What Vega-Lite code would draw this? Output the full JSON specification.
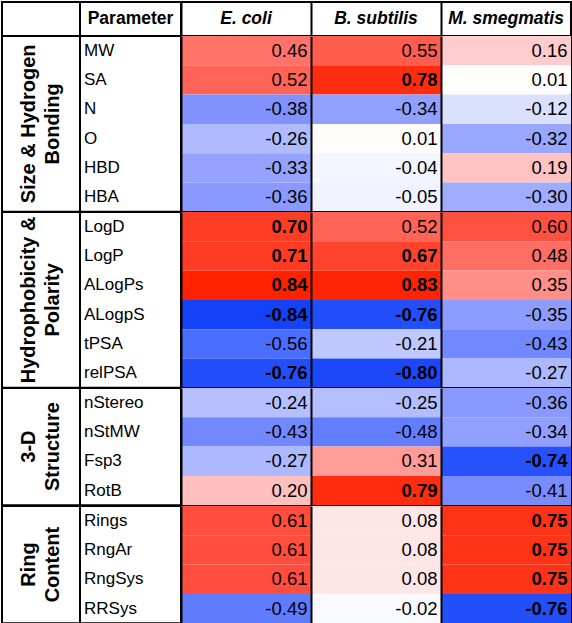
{
  "$schema": "https://vega.github.io/schema/vega-lite/v6.json",
  "padding": {"left": 1, "top": 1, "right": 0, "bottom": 0},
  "columns": 3,
  "spacing": 0,
  "align": "each",
  "bounds": "flush",
  "config": {
    "view": {"stroke": "#000000", "strokeWidth": 2},
    "font": "Liberation Sans",
    "locale": {"number": {"decimal": ".", "thousands": ",", "grouping": [3], "currency": ["$", ""], "minus": "-"}}
  },
  "datasets": {
    "cells": [
      {"g": "Size & Hydrogen\nBonding", "p": "MW", "s": "E. coli", "v": 0.46},
      {"g": "Size & Hydrogen\nBonding", "p": "MW", "s": "B. subtilis", "v": 0.55},
      {"g": "Size & Hydrogen\nBonding", "p": "MW", "s": "M. smegmatis", "v": 0.16},
      {"g": "Size & Hydrogen\nBonding", "p": "SA", "s": "E. coli", "v": 0.52},
      {"g": "Size & Hydrogen\nBonding", "p": "SA", "s": "B. subtilis", "v": 0.78},
      {"g": "Size & Hydrogen\nBonding", "p": "SA", "s": "M. smegmatis", "v": 0.01},
      {"g": "Size & Hydrogen\nBonding", "p": "N", "s": "E. coli", "v": -0.38},
      {"g": "Size & Hydrogen\nBonding", "p": "N", "s": "B. subtilis", "v": -0.34},
      {"g": "Size & Hydrogen\nBonding", "p": "N", "s": "M. smegmatis", "v": -0.12},
      {"g": "Size & Hydrogen\nBonding", "p": "O", "s": "E. coli", "v": -0.26},
      {"g": "Size & Hydrogen\nBonding", "p": "O", "s": "B. subtilis", "v": 0.01},
      {"g": "Size & Hydrogen\nBonding", "p": "O", "s": "M. smegmatis", "v": -0.32},
      {"g": "Size & Hydrogen\nBonding", "p": "HBD", "s": "E. coli", "v": -0.33},
      {"g": "Size & Hydrogen\nBonding", "p": "HBD", "s": "B. subtilis", "v": -0.04},
      {"g": "Size & Hydrogen\nBonding", "p": "HBD", "s": "M. smegmatis", "v": 0.19},
      {"g": "Size & Hydrogen\nBonding", "p": "HBA", "s": "E. coli", "v": -0.36},
      {"g": "Size & Hydrogen\nBonding", "p": "HBA", "s": "B. subtilis", "v": -0.05},
      {"g": "Size & Hydrogen\nBonding", "p": "HBA", "s": "M. smegmatis", "v": -0.30},
      {"g": "Hydrophobicity &\nPolarity", "p": "LogD", "s": "E. coli", "v": 0.70},
      {"g": "Hydrophobicity &\nPolarity", "p": "LogD", "s": "B. subtilis", "v": 0.52},
      {"g": "Hydrophobicity &\nPolarity", "p": "LogD", "s": "M. smegmatis", "v": 0.60},
      {"g": "Hydrophobicity &\nPolarity", "p": "LogP", "s": "E. coli", "v": 0.71},
      {"g": "Hydrophobicity &\nPolarity", "p": "LogP", "s": "B. subtilis", "v": 0.67},
      {"g": "Hydrophobicity &\nPolarity", "p": "LogP", "s": "M. smegmatis", "v": 0.48},
      {"g": "Hydrophobicity &\nPolarity", "p": "ALogPs", "s": "E. coli", "v": 0.84},
      {"g": "Hydrophobicity &\nPolarity", "p": "ALogPs", "s": "B. subtilis", "v": 0.83},
      {"g": "Hydrophobicity &\nPolarity", "p": "ALogPs", "s": "M. smegmatis", "v": 0.35},
      {"g": "Hydrophobicity &\nPolarity", "p": "ALogpS", "s": "E. coli", "v": -0.84},
      {"g": "Hydrophobicity &\nPolarity", "p": "ALogpS", "s": "B. subtilis", "v": -0.76},
      {"g": "Hydrophobicity &\nPolarity", "p": "ALogpS", "s": "M. smegmatis", "v": -0.35},
      {"g": "Hydrophobicity &\nPolarity", "p": "tPSA", "s": "E. coli", "v": -0.56},
      {"g": "Hydrophobicity &\nPolarity", "p": "tPSA", "s": "B. subtilis", "v": -0.21},
      {"g": "Hydrophobicity &\nPolarity", "p": "tPSA", "s": "M. smegmatis", "v": -0.43},
      {"g": "Hydrophobicity &\nPolarity", "p": "relPSA", "s": "E. coli", "v": -0.76},
      {"g": "Hydrophobicity &\nPolarity", "p": "relPSA", "s": "B. subtilis", "v": -0.80},
      {"g": "Hydrophobicity &\nPolarity", "p": "relPSA", "s": "M. smegmatis", "v": -0.27},
      {"g": "3-D\nStructure", "p": "nStereo", "s": "E. coli", "v": -0.24},
      {"g": "3-D\nStructure", "p": "nStereo", "s": "B. subtilis", "v": -0.25},
      {"g": "3-D\nStructure", "p": "nStereo", "s": "M. smegmatis", "v": -0.36},
      {"g": "3-D\nStructure", "p": "nStMW", "s": "E. coli", "v": -0.43},
      {"g": "3-D\nStructure", "p": "nStMW", "s": "B. subtilis", "v": -0.48},
      {"g": "3-D\nStructure", "p": "nStMW", "s": "M. smegmatis", "v": -0.34},
      {"g": "3-D\nStructure", "p": "Fsp3", "s": "E. coli", "v": -0.27},
      {"g": "3-D\nStructure", "p": "Fsp3", "s": "B. subtilis", "v": 0.31},
      {"g": "3-D\nStructure", "p": "Fsp3", "s": "M. smegmatis", "v": -0.74},
      {"g": "3-D\nStructure", "p": "RotB", "s": "E. coli", "v": 0.20},
      {"g": "3-D\nStructure", "p": "RotB", "s": "B. subtilis", "v": 0.79},
      {"g": "3-D\nStructure", "p": "RotB", "s": "M. smegmatis", "v": -0.41},
      {"g": "Ring\nContent", "p": "Rings", "s": "E. coli", "v": 0.61},
      {"g": "Ring\nContent", "p": "Rings", "s": "B. subtilis", "v": 0.08},
      {"g": "Ring\nContent", "p": "Rings", "s": "M. smegmatis", "v": 0.75},
      {"g": "Ring\nContent", "p": "RngAr", "s": "E. coli", "v": 0.61},
      {"g": "Ring\nContent", "p": "RngAr", "s": "B. subtilis", "v": 0.08},
      {"g": "Ring\nContent", "p": "RngAr", "s": "M. smegmatis", "v": 0.75},
      {"g": "Ring\nContent", "p": "RngSys", "s": "E. coli", "v": 0.61},
      {"g": "Ring\nContent", "p": "RngSys", "s": "B. subtilis", "v": 0.08},
      {"g": "Ring\nContent", "p": "RngSys", "s": "M. smegmatis", "v": 0.75},
      {"g": "Ring\nContent", "p": "RRSys", "s": "E. coli", "v": -0.49},
      {"g": "Ring\nContent", "p": "RRSys", "s": "B. subtilis", "v": -0.02},
      {"g": "Ring\nContent", "p": "RRSys", "s": "M. smegmatis", "v": -0.76}
    ]
  },
  "concat": [
    {"width": 78, "height": 34, "data": {"values": [{"h": ""}]}, "mark": {"type": "text"},
     "encoding": {
       "x": {"datum": 0.5, "type": "quantitative", "scale": {"domain": [0, 1]}, "axis": null},
       "y": {"datum": 0.5, "type": "quantitative", "scale": {"domain": [0, 1]}, "axis": null},
       "text": {"field": "h"}}},
    {"width": 101, "height": 34, "data": {"values": [{"h": "Parameter"}]},
     "mark": {"type": "text", "fontWeight": "bold", "fontSize": 17.5, "baseline": "middle"},
     "encoding": {
       "x": {"datum": 0.5, "type": "quantitative", "scale": {"domain": [0, 1]}, "axis": null},
       "y": {"datum": 0.5, "type": "quantitative", "scale": {"domain": [0, 1]}, "axis": null},
       "text": {"field": "h"}}},
    {"width": 390, "height": 34, "data": {"values": [{"h": "E. coli"}, {"h": "B. subtilis"}, {"h": "M. smegmatis"}]},
     "mark": {"type": "text", "fontWeight": "bold", "fontStyle": "italic", "fontSize": 17.5, "baseline": "middle"},
     "encoding": {
       "x": {"field": "h", "type": "nominal", "sort": ["E. coli", "B. subtilis", "M. smegmatis"],
             "scale": {"type": "band", "paddingInner": 0, "paddingOuter": 0},
             "axis": {"grid": true, "gridColor": "#000000", "gridWidth": 2, "gridOpacity": 1, "bandPosition": 0, "labels": false, "ticks": false, "domain": false, "title": null, "zindex": 1}},
       "y": {"datum": 0.5, "type": "quantitative", "scale": {"domain": [0, 1]}, "axis": null},
       "text": {"field": "h"}}},

    {"width": 78, "height": 175.8, "data": {"name": "cells"},
     "transform": [{"filter": "datum.g == 'Size & Hydrogen\\nBonding'"}, {"aggregate": [{"op": "count", "as": "n"}], "groupby": ["g"]}],
     "mark": {"type": "text", "angle": 270, "fontWeight": "bold", "fontSize": 20, "lineBreak": "\n", "lineHeight": 24, "align": "center", "baseline": "middle", "dy": -12},
     "encoding": {
       "x": {"datum": 0.5, "type": "quantitative", "scale": {"domain": [0, 1]}, "axis": null},
       "y": {"datum": 0.5, "type": "quantitative", "scale": {"domain": [0, 1]}, "axis": null},
       "text": {"field": "g"}}},
    {"width": 101, "height": {"step": 29.3}, "data": {"name": "cells"},
     "transform": [{"filter": "datum.g == 'Size & Hydrogen\\nBonding' && datum.s == 'E. coli'"}],
     "mark": {"type": "text", "align": "left", "baseline": "middle", "dx": 4, "fontSize": 17},
     "encoding": {
       "y": {"field": "p", "type": "nominal", "sort": null, "axis": null, "scale": {"type": "band", "paddingInner": 0, "paddingOuter": 0}},
       "x": {"datum": 0, "type": "quantitative", "scale": {"domain": [0, 1]}, "axis": null},
       "text": {"field": "p"}}},
    {"width": 390, "height": {"step": 29.3}, "data": {"name": "cells"},
     "transform": [{"filter": "datum.g == 'Size & Hydrogen\\nBonding'"}],
     "encoding": {
       "y": {"field": "p", "type": "nominal", "sort": null, "axis": null, "scale": {"type": "band", "paddingInner": 0, "paddingOuter": 0}},
       "x": {"field": "s", "type": "nominal", "sort": ["E. coli", "B. subtilis", "M. smegmatis"], "scale": {"type": "band", "paddingInner": 0, "paddingOuter": 0},
             "axis": {"grid": true, "gridColor": "#000000", "gridWidth": 2, "gridOpacity": 1, "bandPosition": 0, "labels": false, "ticks": false, "domain": false, "title": null, "zindex": 1}}},
     "layer": [
       {"mark": {"type": "rect"},
        "encoding": {"color": {"field": "v", "type": "quantitative", "legend": null,
          "scale": {"domain": [-0.84, -0.56, -0.38, -0.26, 0, 0.16, 0.35, 0.6, 0.84], "range": ["#1442f8", "#4a6eff", "#8192ff", "#b0bbff", "#ffffff", "#ffcdcd", "#ff8f88", "#ff5040", "#ff2200"], "interpolate": "rgb"}}}},
       {"transform": [{"filter": "abs(datum.v) < 0.65"}],
        "mark": {"type": "text", "align": "right", "baseline": "middle", "dx": -3.5, "fontSize": 18.5, "color": "#000000"},
        "encoding": {"x": {"field": "s", "type": "nominal", "sort": ["E. coli", "B. subtilis", "M. smegmatis"], "bandPosition": 1}, "text": {"field": "v", "type": "quantitative", "format": ".2f"}}},
       {"transform": [{"filter": "abs(datum.v) >= 0.65"}],
        "mark": {"type": "text", "align": "right", "baseline": "middle", "dx": -3.5, "fontSize": 18.5, "fontWeight": "bold", "color": "#000000"},
        "encoding": {"x": {"field": "s", "type": "nominal", "sort": ["E. coli", "B. subtilis", "M. smegmatis"], "bandPosition": 1}, "text": {"field": "v", "type": "quantitative", "format": ".2f"}}}
     ]},

    {"width": 78, "height": 175.8, "data": {"name": "cells"},
     "transform": [{"filter": "datum.g == 'Hydrophobicity &\\nPolarity'"}, {"aggregate": [{"op": "count", "as": "n"}], "groupby": ["g"]}],
     "mark": {"type": "text", "angle": 270, "fontWeight": "bold", "fontSize": 20, "lineBreak": "\n", "lineHeight": 24, "align": "center", "baseline": "middle", "dy": -12},
     "encoding": {
       "x": {"datum": 0.5, "type": "quantitative", "scale": {"domain": [0, 1]}, "axis": null},
       "y": {"datum": 0.5, "type": "quantitative", "scale": {"domain": [0, 1]}, "axis": null},
       "text": {"field": "g"}}},
    {"width": 101, "height": {"step": 29.3}, "data": {"name": "cells"},
     "transform": [{"filter": "datum.g == 'Hydrophobicity &\\nPolarity' && datum.s == 'E. coli'"}],
     "mark": {"type": "text", "align": "left", "baseline": "middle", "dx": 4, "fontSize": 17},
     "encoding": {
       "y": {"field": "p", "type": "nominal", "sort": null, "axis": null, "scale": {"type": "band", "paddingInner": 0, "paddingOuter": 0}},
       "x": {"datum": 0, "type": "quantitative", "scale": {"domain": [0, 1]}, "axis": null},
       "text": {"field": "p"}}},
    {"width": 390, "height": {"step": 29.3}, "data": {"name": "cells"},
     "transform": [{"filter": "datum.g == 'Hydrophobicity &\\nPolarity'"}],
     "encoding": {
       "y": {"field": "p", "type": "nominal", "sort": null, "axis": null, "scale": {"type": "band", "paddingInner": 0, "paddingOuter": 0}},
       "x": {"field": "s", "type": "nominal", "sort": ["E. coli", "B. subtilis", "M. smegmatis"], "scale": {"type": "band", "paddingInner": 0, "paddingOuter": 0},
             "axis": {"grid": true, "gridColor": "#000000", "gridWidth": 2, "gridOpacity": 1, "bandPosition": 0, "labels": false, "ticks": false, "domain": false, "title": null, "zindex": 1}}},
     "layer": [
       {"mark": {"type": "rect"},
        "encoding": {"color": {"field": "v", "type": "quantitative", "legend": null,
          "scale": {"domain": [-0.84, -0.56, -0.38, -0.26, 0, 0.16, 0.35, 0.6, 0.84], "range": ["#1442f8", "#4a6eff", "#8192ff", "#b0bbff", "#ffffff", "#ffcdcd", "#ff8f88", "#ff5040", "#ff2200"], "interpolate": "rgb"}}}},
       {"transform": [{"filter": "abs(datum.v) < 0.65"}],
        "mark": {"type": "text", "align": "right", "baseline": "middle", "dx": -3.5, "fontSize": 18.5, "color": "#000000"},
        "encoding": {"x": {"field": "s", "type": "nominal", "sort": ["E. coli", "B. subtilis", "M. smegmatis"], "bandPosition": 1}, "text": {"field": "v", "type": "quantitative", "format": ".2f"}}},
       {"transform": [{"filter": "abs(datum.v) >= 0.65"}],
        "mark": {"type": "text", "align": "right", "baseline": "middle", "dx": -3.5, "fontSize": 18.5, "fontWeight": "bold", "color": "#000000"},
        "encoding": {"x": {"field": "s", "type": "nominal", "sort": ["E. coli", "B. subtilis", "M. smegmatis"], "bandPosition": 1}, "text": {"field": "v", "type": "quantitative", "format": ".2f"}}}
     ]},

    {"width": 78, "height": 117.2, "data": {"name": "cells"},
     "transform": [{"filter": "datum.g == '3-D\\nStructure'"}, {"aggregate": [{"op": "count", "as": "n"}], "groupby": ["g"]}],
     "mark": {"type": "text", "angle": 270, "fontWeight": "bold", "fontSize": 20, "lineBreak": "\n", "lineHeight": 24, "align": "center", "baseline": "middle", "dy": -12},
     "encoding": {
       "x": {"datum": 0.5, "type": "quantitative", "scale": {"domain": [0, 1]}, "axis": null},
       "y": {"datum": 0.5, "type": "quantitative", "scale": {"domain": [0, 1]}, "axis": null},
       "text": {"field": "g"}}},
    {"width": 101, "height": {"step": 29.3}, "data": {"name": "cells"},
     "transform": [{"filter": "datum.g == '3-D\\nStructure' && datum.s == 'E. coli'"}],
     "mark": {"type": "text", "align": "left", "baseline": "middle", "dx": 4, "fontSize": 17},
     "encoding": {
       "y": {"field": "p", "type": "nominal", "sort": null, "axis": null, "scale": {"type": "band", "paddingInner": 0, "paddingOuter": 0}},
       "x": {"datum": 0, "type": "quantitative", "scale": {"domain": [0, 1]}, "axis": null},
       "text": {"field": "p"}}},
    {"width": 390, "height": {"step": 29.3}, "data": {"name": "cells"},
     "transform": [{"filter": "datum.g == '3-D\\nStructure'"}],
     "encoding": {
       "y": {"field": "p", "type": "nominal", "sort": null, "axis": null, "scale": {"type": "band", "paddingInner": 0, "paddingOuter": 0}},
       "x": {"field": "s", "type": "nominal", "sort": ["E. coli", "B. subtilis", "M. smegmatis"], "scale": {"type": "band", "paddingInner": 0, "paddingOuter": 0},
             "axis": {"grid": true, "gridColor": "#000000", "gridWidth": 2, "gridOpacity": 1, "bandPosition": 0, "labels": false, "ticks": false, "domain": false, "title": null, "zindex": 1}}},
     "layer": [
       {"mark": {"type": "rect"},
        "encoding": {"color": {"field": "v", "type": "quantitative", "legend": null,
          "scale": {"domain": [-0.84, -0.56, -0.38, -0.26, 0, 0.16, 0.35, 0.6, 0.84], "range": ["#1442f8", "#4a6eff", "#8192ff", "#b0bbff", "#ffffff", "#ffcdcd", "#ff8f88", "#ff5040", "#ff2200"], "interpolate": "rgb"}}}},
       {"transform": [{"filter": "abs(datum.v) < 0.65"}],
        "mark": {"type": "text", "align": "right", "baseline": "middle", "dx": -3.5, "fontSize": 18.5, "color": "#000000"},
        "encoding": {"x": {"field": "s", "type": "nominal", "sort": ["E. coli", "B. subtilis", "M. smegmatis"], "bandPosition": 1}, "text": {"field": "v", "type": "quantitative", "format": ".2f"}}},
       {"transform": [{"filter": "abs(datum.v) >= 0.65"}],
        "mark": {"type": "text", "align": "right", "baseline": "middle", "dx": -3.5, "fontSize": 18.5, "fontWeight": "bold", "color": "#000000"},
        "encoding": {"x": {"field": "s", "type": "nominal", "sort": ["E. coli", "B. subtilis", "M. smegmatis"], "bandPosition": 1}, "text": {"field": "v", "type": "quantitative", "format": ".2f"}}}
     ]},

    {"width": 78, "height": 117.2, "data": {"name": "cells"},
     "transform": [{"filter": "datum.g == 'Ring\\nContent'"}, {"aggregate": [{"op": "count", "as": "n"}], "groupby": ["g"]}],
     "mark": {"type": "text", "angle": 270, "fontWeight": "bold", "fontSize": 20, "lineBreak": "\n", "lineHeight": 24, "align": "center", "baseline": "middle", "dy": -12},
     "encoding": {
       "x": {"datum": 0.5, "type": "quantitative", "scale": {"domain": [0, 1]}, "axis": null},
       "y": {"datum": 0.5, "type": "quantitative", "scale": {"domain": [0, 1]}, "axis": null},
       "text": {"field": "g"}}},
    {"width": 101, "height": {"step": 29.3}, "data": {"name": "cells"},
     "transform": [{"filter": "datum.g == 'Ring\\nContent' && datum.s == 'E. coli'"}],
     "mark": {"type": "text", "align": "left", "baseline": "middle", "dx": 4, "fontSize": 17},
     "encoding": {
       "y": {"field": "p", "type": "nominal", "sort": null, "axis": null, "scale": {"type": "band", "paddingInner": 0, "paddingOuter": 0}},
       "x": {"datum": 0, "type": "quantitative", "scale": {"domain": [0, 1]}, "axis": null},
       "text": {"field": "p"}}},
    {"width": 390, "height": {"step": 29.3}, "data": {"name": "cells"},
     "transform": [{"filter": "datum.g == 'Ring\\nContent'"}],
     "encoding": {
       "y": {"field": "p", "type": "nominal", "sort": null, "axis": null, "scale": {"type": "band", "paddingInner": 0, "paddingOuter": 0}},
       "x": {"field": "s", "type": "nominal", "sort": ["E. coli", "B. subtilis", "M. smegmatis"], "scale": {"type": "band", "paddingInner": 0, "paddingOuter": 0},
             "axis": {"grid": true, "gridColor": "#000000", "gridWidth": 2, "gridOpacity": 1, "bandPosition": 0, "labels": false, "ticks": false, "domain": false, "title": null, "zindex": 1}}},
     "layer": [
       {"mark": {"type": "rect"},
        "encoding": {"color": {"field": "v", "type": "quantitative", "legend": null,
          "scale": {"domain": [-0.84, -0.56, -0.38, -0.26, 0, 0.16, 0.35, 0.6, 0.84], "range": ["#1442f8", "#4a6eff", "#8192ff", "#b0bbff", "#ffffff", "#ffcdcd", "#ff8f88", "#ff5040", "#ff2200"], "interpolate": "rgb"}}}},
       {"transform": [{"filter": "abs(datum.v) < 0.65"}],
        "mark": {"type": "text", "align": "right", "baseline": "middle", "dx": -3.5, "fontSize": 18.5, "color": "#000000"},
        "encoding": {"x": {"field": "s", "type": "nominal", "sort": ["E. coli", "B. subtilis", "M. smegmatis"], "bandPosition": 1}, "text": {"field": "v", "type": "quantitative", "format": ".2f"}}},
       {"transform": [{"filter": "abs(datum.v) >= 0.65"}],
        "mark": {"type": "text", "align": "right", "baseline": "middle", "dx": -3.5, "fontSize": 18.5, "fontWeight": "bold", "color": "#000000"},
        "encoding": {"x": {"field": "s", "type": "nominal", "sort": ["E. coli", "B. subtilis", "M. smegmatis"], "bandPosition": 1}, "text": {"field": "v", "type": "quantitative", "format": ".2f"}}}
     ]}
  ]
}
